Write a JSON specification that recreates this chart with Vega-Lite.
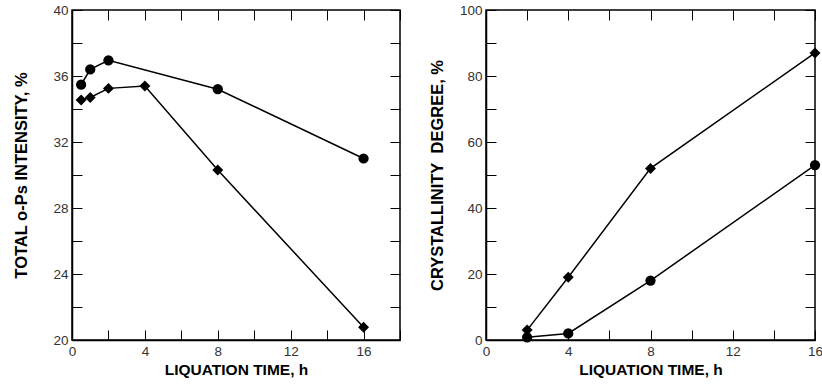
{
  "$schema": "https://vega.github.io/schema/vega-lite/v6.json",
  "padding": {"left": 13, "top": 2, "right": 0, "bottom": 0},
  "spacing": 26,
  "config": {
    "view": {"stroke": "black", "strokeWidth": 1.5},
    "font": "Liberation Sans",
    "axis": {
      "grid": false,
      "domainColor": "black",
      "domainWidth": 1.5,
      "tickColor": "black",
      "tickWidth": 1,
      "tickSize": -10,
      "labelPadding": 14,
      "labelFont": "Liberation Sans",
      "labelFontSize": 13.5,
      "labelColor": "#333",
      "labelFlush": false,
      "labelOverlap": false,
      "titleFont": "Liberation Sans",
      "titleFontSize": 15.5,
      "titleFontWeight": "bold",
      "titleColor": "black"
    }
  },
  "datasets": {
    "intensity": [
      {"series": "s1", "t": 0.5, "v": 35.47},
      {"series": "s1", "t": 1, "v": 36.4},
      {"series": "s1", "t": 2, "v": 36.95},
      {"series": "s1", "t": 8, "v": 35.2},
      {"series": "s1", "t": 16, "v": 31.0},
      {"series": "s2", "t": 0.5, "v": 34.55},
      {"series": "s2", "t": 1, "v": 34.7},
      {"series": "s2", "t": 2, "v": 35.25},
      {"series": "s2", "t": 4, "v": 35.4},
      {"series": "s2", "t": 8, "v": 30.3},
      {"series": "s2", "t": 16, "v": 20.77}
    ],
    "crystal": [
      {"series": "s1", "t": 2, "v": 0.8},
      {"series": "s1", "t": 4, "v": 2},
      {"series": "s1", "t": 8, "v": 18},
      {"series": "s1", "t": 16, "v": 53},
      {"series": "s2", "t": 2, "v": 3},
      {"series": "s2", "t": 4, "v": 19},
      {"series": "s2", "t": 8, "v": 52},
      {"series": "s2", "t": 16, "v": 87}
    ]
  },
  "hconcat": [
    {
      "width": 328,
      "height": 330,
      "data": {"name": "intensity"},
      "layer": [
        {
          "mark": {"type": "line", "color": "black", "strokeWidth": 1.5},
          "encoding": {
            "x": {"field": "t", "type": "quantitative", "scale": {"domain": [0, 18], "nice": false},
              "axis": {"orient": "bottom", "values": [0, 2, 4, 6, 8, 10, 12, 14, 16, 18], "labelExpr": "datum.value % 4 === 0 && datum.value < 18 ? datum.label : ''", "title": "LIQUATION TIME, h", "titlePadding": 5}},
            "y": {"field": "v", "type": "quantitative", "scale": {"domain": [20, 40], "nice": false, "zero": false},
              "axis": {"orient": "left", "values": [20, 22, 24, 26, 28, 30, 32, 34, 36, 38, 40], "labelExpr": "datum.value % 4 === 0 ? datum.label : ''", "title": "TOTAL o-Ps INTENSITY, %", "titleFontSize": 16.5, "titlePadding": 23}},
            "detail": {"field": "series"}
          }
        },
        {
          "mark": {"type": "point", "filled": true, "color": "black", "opacity": 1},
          "encoding": {
            "x": {"field": "t", "type": "quantitative", "scale": {"domain": [0, 18], "nice": false},
              "axis": {"orient": "top", "values": [0, 2, 4, 6, 8, 10, 12, 14, 16, 18], "labels": false, "title": null, "domain": false}},
            "y": {"field": "v", "type": "quantitative", "scale": {"domain": [20, 40], "nice": false, "zero": false},
              "axis": {"orient": "right", "values": [20, 22, 24, 26, 28, 30, 32, 34, 36, 38, 40], "labels": false, "title": null, "domain": false}},
            "shape": {"field": "series", "type": "nominal", "scale": {"domain": ["s1", "s2"], "range": ["circle", "diamond"]}, "legend": null},
            "size": {"field": "series", "type": "nominal", "scale": {"domain": ["s1", "s2"], "range": [105, 120]}, "legend": null}
          }
        }
      ],
      "resolve": {"axis": {"x": "independent", "y": "independent"}}
    },
    {
      "width": 329,
      "height": 330,
      "data": {"name": "crystal"},
      "layer": [
        {
          "mark": {"type": "line", "color": "black", "strokeWidth": 1.5},
          "encoding": {
            "x": {"field": "t", "type": "quantitative", "scale": {"domain": [0, 16], "nice": false},
              "axis": {"orient": "bottom", "values": [0, 2, 4, 6, 8, 10, 12, 14, 16], "labelExpr": "datum.value % 4 === 0 ? datum.label : ''", "title": "LIQUATION TIME, h", "titlePadding": 5}},
            "y": {"field": "v", "type": "quantitative", "scale": {"domain": [0, 100], "nice": false},
              "axis": {"orient": "left", "values": [0, 10, 20, 30, 40, 50, 60, 70, 80, 90, 100], "labelExpr": "datum.value % 20 === 0 ? datum.label : ''", "title": "CRYSTALLINITY\u00a0 DEGREE, %", "titleFontSize": 16.5, "titlePadding": 14}},
            "detail": {"field": "series"}
          }
        },
        {
          "mark": {"type": "point", "filled": true, "color": "black", "opacity": 1},
          "encoding": {
            "x": {"field": "t", "type": "quantitative", "scale": {"domain": [0, 16], "nice": false},
              "axis": {"orient": "top", "values": [0, 2, 4, 6, 8, 10, 12, 14, 16], "labels": false, "title": null, "domain": false}},
            "y": {"field": "v", "type": "quantitative", "scale": {"domain": [0, 100], "nice": false},
              "axis": {"orient": "right", "values": [0, 10, 20, 30, 40, 50, 60, 70, 80, 90, 100], "labels": false, "title": null, "domain": false}},
            "shape": {"field": "series", "type": "nominal", "scale": {"domain": ["s1", "s2"], "range": ["circle", "diamond"]}, "legend": null},
            "size": {"field": "series", "type": "nominal", "scale": {"domain": ["s1", "s2"], "range": [110, 125]}, "legend": null}
          }
        }
      ],
      "resolve": {"axis": {"x": "independent", "y": "independent"}}
    }
  ]
}
